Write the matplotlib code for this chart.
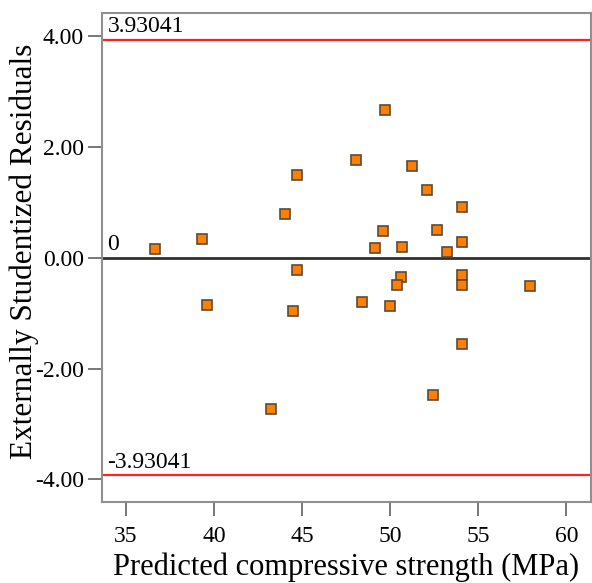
import matplotlib
matplotlib.use("Agg")
import matplotlib.pyplot as plt

plt.rcParams["font.family"] = ["Liberation Serif", "DejaVu Serif"]

# predicted strength (MPa) and externally studentized residuals
predicted = [36.66, 39.31, 44.03, 44.73, 44.69, 49.70, 48.06, 51.23, 52.10, 54.06,
             49.59, 52.66, 49.15, 50.65, 53.20, 54.06, 50.61, 50.40, 48.41, 49.98,
             54.06, 54.06, 57.92, 54.08, 52.40, 39.59, 44.47, 43.24]
residuals = [0.16, 0.33, 0.79, 1.50, -0.22, 2.67, 1.77, 1.66, 1.22, 0.92,
             0.49, 0.51, 0.18, 0.19, 0.11, 0.29, -0.35, -0.50, -0.79, -0.88,
             -0.31, -0.49, -0.51, -1.55, -2.47, -0.85, -0.96, -2.73]
limit = 3.93041
x_ticks = [35, 40, 45, 50, 55, 60]
y_ticks = [-4, -2, 0, 2, 4]

fig = plt.figure(figsize=(5.92, 5.83), dpi=100)
ax = fig.add_axes([0.1723, 0.139, 0.8257, 0.8387])

ax.axhline(limit, color="#ff2020", lw=1.6, zorder=1)
ax.axhline(-limit, color="#ff2020", lw=1.6, zorder=1)
ax.axhline(0, color="#303030", lw=2, zorder=1)

ax.plot(predicted, residuals, ls="none", marker="s", ms=6.8,
        mfc="#ff7f00", mec="#5a4a3a", mew=1.2, zorder=3)

ax.text(33.95, limit + 0.05, f"{limit:.5f}", fontsize=17, va="bottom", ha="left")
ax.text(33.95, 0.05, "0", fontsize=17, va="bottom", ha="left")
ax.text(33.95, -limit + 0.05, f"{-limit:.5f}", fontsize=17, va="bottom", ha="left")

ax.set_xlim(33.64, 61.38)
ax.set_ylim(-4.41, 4.42)
ax.set_xticks(x_ticks)
ax.set_yticks(y_ticks)
ax.set_yticklabels([f"{v:.2f}" for v in y_ticks])
ax.tick_params(axis="both", direction="out", length=10, width=1.2,
               color="#606060", labelsize=17, pad=3)
ax.tick_params(axis="x", pad=7)

for s in ax.spines.values():
    s.set_color("#909090")
    s.set_linewidth(1.5)

ax.set_xlabel("Predicted compressive strength (MPa)", fontsize=22, labelpad=4)
ax.set_ylabel("Externally Studentized Residuals", fontsize=22.5)
ax.yaxis.set_label_coords(-0.128, 0.513)

fig.savefig("out.png", dpi=100)
